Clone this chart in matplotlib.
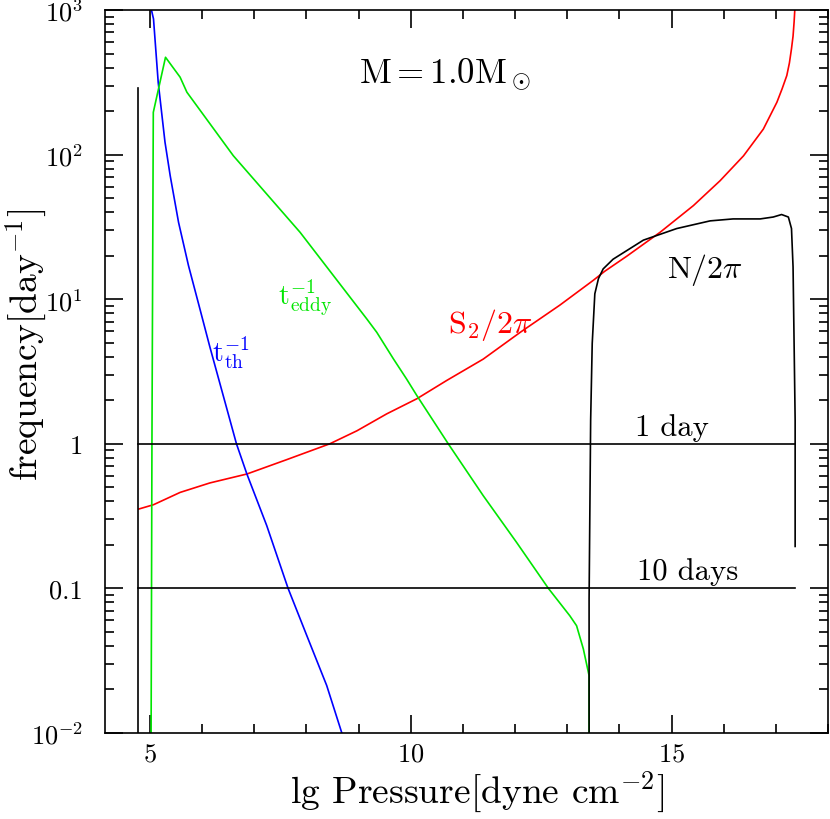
import matplotlib
matplotlib.use("Agg")
import matplotlib.pyplot as plt
from matplotlib.ticker import FixedLocator, FixedFormatter, LogLocator, MultipleLocator, NullFormatter

plt.rcParams['font.family'] = ['cmr10', 'DejaVu Serif']
plt.rcParams['mathtext.fontset'] = 'cm'
plt.rcParams['axes.formatter.use_mathtext'] = True

# S2/2pi (red)
s2_x = [4.79, 5.07, 5.58, 6.15, 6.86, 7.62, 8.45, 8.97, 9.54, 10.12, 10.69, 11.39,
        12.10, 12.86, 13.50, 13.72, 14.14, 14.78, 15.42, 15.93, 16.38, 16.76, 17.02,
        17.12, 17.21, 17.26, 17.30, 17.33, 17.35, 17.37]
s2_y = [0.354, 0.379, 0.461, 0.536, 0.618, 0.776, 1.0, 1.23, 1.61, 2.05, 2.74, 3.85,
        5.9, 9.1, 13.5, 15.6, 19.8, 29.0, 44.4, 65.9, 98, 150, 230,
        285, 352, 430, 540, 660, 826, 1100]

# N/2pi (black)
n_x = [13.42, 13.42, 13.45, 13.48, 13.53, 13.60, 13.69, 13.88, 14.46, 15.10, 15.74,
       16.18, 16.50, 16.70, 16.95, 17.11, 17.24, 17.30, 17.33, 17.35, 17.37, 17.37]
n_y = [0.001, 0.0845, 1.46, 4.94, 10.9, 13.9, 16.2, 18.9, 25.6, 30.8, 34.8,
       35.9, 35.9, 35.9, 37.0, 38.5, 37.0, 30.8, 16.7, 4.94, 1.46, 0.195]

# t_th^-1 (blue)
th_x = [4.98, 5.07, 5.16, 5.29, 5.39, 5.55, 5.74, 5.96, 6.15, 6.66, 6.86, 7.24,
        7.65, 8.01, 8.39, 8.68]
th_y = [1200, 867, 316, 122, 71.4, 34.0, 17.1, 8.55, 4.68, 1.0, 0.618, 0.272,
        0.1, 0.047, 0.0213, 0.01]

# t_eddy^-1 (green)
ed_x = [5.016, 5.04, 5.066, 5.30, 5.58, 5.71, 6.60, 7.88, 9.16, 9.35, 9.67, 9.92,
        10.12, 10.72, 11.39, 12.03, 12.64, 13.05, 13.18, 13.31, 13.42, 13.42]
ed_y = [0.001, 1.0, 196, 471, 343, 270, 98.2, 29.0, 7.29, 5.90, 3.86, 2.81,
        2.15, 1.0, 0.438, 0.208, 0.1, 0.0647, 0.0552, 0.0381, 0.0249, 0.001]

# reference periods and surface marker
period_levels = [1.0, 0.1]
period_labels = ['1 day', '10 days']
line_x = [4.78, 17.37]
surface_x = 4.78
surface_top = 287

yticks = [0.01, 0.1, 1, 10, 100, 1000]
ytick_labels = [r'10$^{-2}$', '0.1', '1', r'10$^{1}$', r'10$^{2}$', r'10$^{3}$']

fig = plt.figure(figsize=(8.3, 8.2), dpi=100)
ax = fig.add_axes([0.1265, 0.1049, 0.8711, 0.8817])

lw = 1.2
ax.plot(s2_x, s2_y, color='#ff0000', lw=lw)
ax.plot(th_x, th_y, color='#0000ff', lw=lw)
ax.plot(ed_x, ed_y, color='#00e600', lw=lw)
ax.plot(n_x, n_y, color='black', lw=lw)
ax.plot([surface_x, surface_x], [0.001, surface_top], color='black', lw=lw)
for lev in period_levels:
    ax.plot(line_x, [lev, lev], color='black', lw=lw)

ax.set_yscale('log')
ax.set_xlim(4.14, 18.0)
ax.set_ylim(0.01, 1000)

ax.xaxis.set_major_locator(MultipleLocator(5))
ax.xaxis.set_minor_locator(MultipleLocator(1))
ax.yaxis.set_major_locator(FixedLocator(yticks))
ax.yaxis.set_major_formatter(FixedFormatter(ytick_labels))
ax.yaxis.set_minor_locator(LogLocator(base=10, subs=range(2, 10)))
ax.yaxis.set_minor_formatter(NullFormatter())

ax.tick_params(which='both', direction='in', top=True, right=True, width=1.2)
ax.tick_params(which='major', length=13, labelsize=19)
ax.tick_params(axis='x', which='major', pad=6)
ax.tick_params(axis='y', which='major', pad=16)
ax.tick_params(which='minor', length=6.5)
for sp in ax.spines.values():
    sp.set_linewidth(1.2)

ax.set_xlabel(r'lg Pressure[dyne cm$^{-2}$]', fontsize=27, va='top')
ax.set_ylabel(r'frequency[day$^{-1}$]', fontsize=27)
ax.xaxis.set_label_coords(0.515, -0.05)
ax.yaxis.set_label_coords(-0.079, 0.538)

ax.text(10.66, 360, r'M$=$1.0M$_\odot$', fontsize=25, ha='center', va='center')
ax.text(15.64, 16.2, r'N/2$\pi$', fontsize=23, ha='center', va='center')
ax.text(11.52, 6.73, r'S$_2$/2$\pi$', fontsize=23, ha='center', va='center', color='#ff0000')
ax.text(7.97, 10.5, r'$\mathrm{t}_{\mathrm{eddy}}^{-1}$', fontsize=20, ha='center', va='center', color='#00e600')
ax.text(6.54, 4.3, r'$\mathrm{t}_{\mathrm{th}}^{-1}$', fontsize=20, ha='center', va='center', color='#0000ff')
ax.text(15.0, 1.05, period_labels[0], fontsize=22, ha='center', va='bottom')
ax.text(15.3, 0.105, period_labels[1], fontsize=22, ha='center', va='bottom')

fig.savefig('out.png', dpi=100)
